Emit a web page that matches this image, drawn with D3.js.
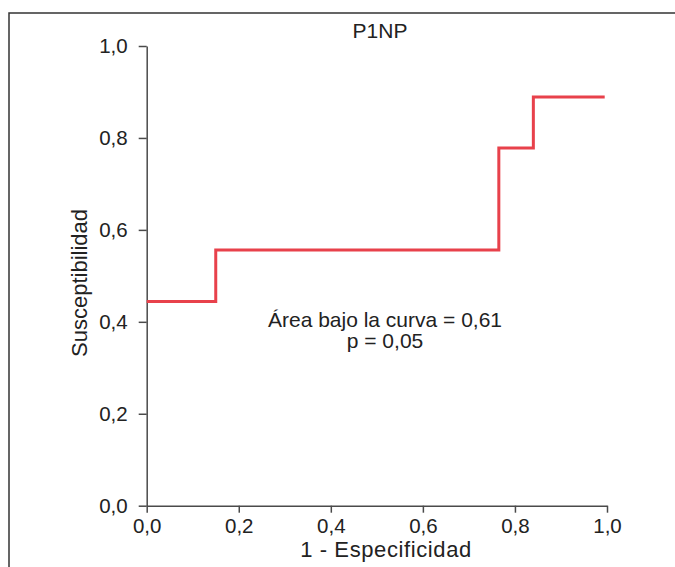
<!DOCTYPE html>
<html lang="es">
<head>
<meta charset="UTF-8">
<title>P1NP ROC</title>
<script src="https://d3js.org/d3.v7.min.js"></script>
<style>
    body { margin: 0; background: #fff; }
    svg { display: block; font-family: "Liberation Sans", Arial, sans-serif; }
    .axis path, .axis line { stroke: #4a4a4a; stroke-width: 1.5px; }
    .axis text { font-size: 20.5px; fill: #222; font-family: "Liberation Sans", Arial, sans-serif; }
</style>
</head>
<body>
<svg width="675" height="567"></svg>
<script>
// ROC step curve
const fpr = [0, 0.15, 0.15, 0.765, 0.765, 0.84, 0.84, 0.995];
const tpr = [0.444, 0.444, 0.556, 0.556, 0.778, 0.778, 0.889, 0.889];
const ticks = [0, 0.2, 0.4, 0.6, 0.8, 1.0];
const title = "P1NP";
const notes = ["Área bajo la curva = 0,61", "p = 0,05"];

const svg = d3.select("svg");
const fmt = d => d3.format(".1f")(d).replace(".", ",");

// frame (top and left only)
svg.append("path")
    .attr("d", "M9,567V13H675")
    .attr("fill", "none")
    .attr("stroke", "#333")
    .attr("stroke-width", 1.5);

const x = d3.scaleLinear().domain([0, 1]).range([146.7, 607]);
const y = d3.scaleLinear().domain([0, 1]).range([505.7, 46]);

svg.append("g")
    .attr("class", "axis")
    .attr("transform", `translate(0,${y(0)})`)
    .call(d3.axisBottom(x).tickValues(ticks).tickFormat(fmt).tickSize(7).tickSizeOuter(0).tickPadding(6));

svg.append("g")
    .attr("class", "axis")
    .attr("transform", `translate(${x(0)},0)`)
    .call(d3.axisLeft(y).tickValues(ticks).tickFormat(fmt).tickSize(8).tickSizeOuter(0).tickPadding(11));

const line = d3.line().x(d => x(d[0])).y(d => y(d[1]));
svg.append("path")
    .datum(d3.zip(fpr, tpr))
    .attr("d", line)
    .attr("fill", "none")
    .attr("stroke", "#e8414b")
    .attr("stroke-width", 3);

svg.append("text")
    .attr("x", 380).attr("y", 38)
    .attr("text-anchor", "middle")
    .attr("font-size", 21)
    .attr("fill", "#222")
    .text(title);

svg.selectAll(".note")
    .data(notes)
    .enter().append("text")
    .attr("class", "note")
    .attr("x", 385)
    .attr("y", (d, i) => 327 + i * 21)
    .attr("text-anchor", "middle")
    .attr("font-size", 21)
    .attr("fill", "#222")
    .text(d => d);

svg.append("text")
    .attr("x", 386).attr("y", 557)
    .attr("text-anchor", "middle")
    .attr("font-size", 22)
    .attr("letter-spacing", 0.6)
    .attr("fill", "#222")
    .text("1 - Especificidad");

svg.append("text")
    .attr("transform", "translate(87,283) rotate(-90)")
    .attr("text-anchor", "middle")
    .attr("font-size", 22)
    .attr("fill", "#222")
    .text("Susceptibilidad");
</script>
</body>
</html>
